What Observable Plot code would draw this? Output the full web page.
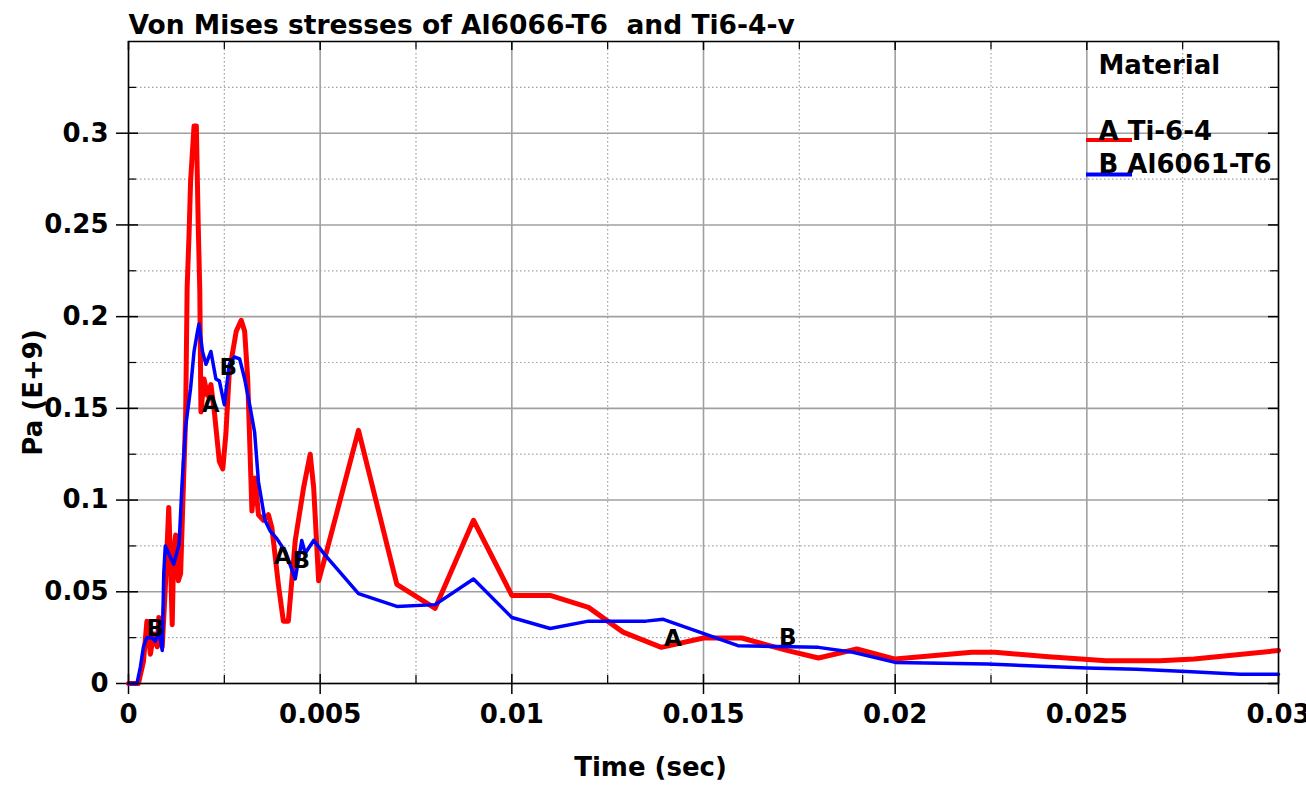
<!DOCTYPE html>
<html>
<head>
<meta charset="utf-8">
<script src="https://cdn.jsdelivr.net/npm/d3@7"></script>
<script src="https://cdn.jsdelivr.net/npm/@observablehq/plot@0.6"></script>
<style>
  html, body { margin: 0; padding: 0; background: white; }
</style>
</head>
<body>
<div id="chart"></div>
<script>
// ---- Data ----
const titleText = "Von Mises stresses of Al6066-T6  and Ti6-4-v";
const xLabelText = "Time (sec)";
const yLabelText = "Pa (E+9)";
const legendTitle = "Material";

// Series A: Ti-6-4 (red)
const tiTime = [0, 0.00026, 0.00039, 0.00048, 0.00057, 0.00066, 0.00075, 0.00079, 0.00088, 0.00096,
  0.00105, 0.0011, 0.00114, 0.00118, 0.00123, 0.0013, 0.00136, 0.00142, 0.00149, 0.00153,
  0.00158, 0.00162, 0.00171, 0.00177, 0.00182, 0.00186, 0.00189, 0.00197, 0.00206, 0.00215,
  0.00224, 0.00237, 0.00246, 0.00254, 0.00263, 0.00281, 0.00294, 0.00303, 0.00311, 0.00322,
  0.0033, 0.00339, 0.00352, 0.00365, 0.00374, 0.00391, 0.00404, 0.00417, 0.00435, 0.00457,
  0.00474, 0.00483, 0.00496, 0.00513, 0.006, 0.007, 0.008, 0.009, 0.01, 0.011,
  0.012, 0.0129, 0.0139, 0.015, 0.016, 0.0172, 0.018, 0.019, 0.02, 0.022,
  0.0226, 0.024, 0.0255, 0.0269, 0.0278, 0.03];
const tiStress = [0, 0, 0.012, 0.034, 0.016, 0.027, 0.02, 0.036, 0.02, 0.052,
  0.096, 0.063, 0.032, 0.072, 0.081, 0.056, 0.06, 0.1, 0.145, 0.216,
  0.245, 0.274, 0.304, 0.304, 0.249, 0.214, 0.148, 0.166, 0.157, 0.163,
  0.148, 0.121, 0.117, 0.136, 0.17, 0.192, 0.198, 0.192, 0.166, 0.094,
  0.112, 0.092, 0.089, 0.092, 0.085, 0.054, 0.034, 0.034, 0.078, 0.107,
  0.125, 0.107, 0.056, 0.069, 0.138, 0.054, 0.041, 0.089, 0.048, 0.048,
  0.0415, 0.028, 0.0197, 0.0248, 0.0248, 0.0179, 0.0139, 0.0188, 0.0133, 0.017,
  0.017, 0.0146, 0.0124, 0.0124, 0.0133, 0.018];

// Series B: Al6061-T6 (blue)
const alTime = [0, 0.00022, 0.00031, 0.00039, 0.00048, 0.00061, 0.0007, 0.00079, 0.00088, 0.00092,
  0.00096, 0.00118, 0.00132, 0.0014, 0.00149, 0.00162, 0.00171, 0.0018, 0.00184, 0.00193,
  0.00202, 0.00215, 0.00228, 0.00237, 0.0025, 0.00263, 0.00276, 0.0029, 0.00303, 0.00316,
  0.00329, 0.00339, 0.00356, 0.0037, 0.00387, 0.00409, 0.00435, 0.00452, 0.00461, 0.00483,
  0.00513, 0.006, 0.007, 0.008, 0.009, 0.01, 0.011, 0.012, 0.0135, 0.01395,
  0.0159, 0.018, 0.0189, 0.02, 0.0224, 0.025, 0.0263, 0.0276, 0.029, 0.03];
const alStress = [0, 0, 0.009, 0.02, 0.025, 0.025, 0.023, 0.029, 0.018, 0.06,
  0.075, 0.065, 0.076, 0.11, 0.14, 0.161, 0.181, 0.192, 0.196, 0.181,
  0.174, 0.181, 0.166, 0.165, 0.152, 0.174, 0.178, 0.177, 0.166, 0.152,
  0.137, 0.11, 0.089, 0.083, 0.079, 0.072, 0.057, 0.078, 0.071, 0.078,
  0.070, 0.049, 0.042, 0.043, 0.057, 0.036, 0.030, 0.034, 0.034, 0.035,
  0.0206, 0.0197, 0.017, 0.0115, 0.0106, 0.0084, 0.0078, 0.0066, 0.0051, 0.0051];

// On-curve point labels
const markText = ["B", "A", "B", "A", "B", "A", "B"];
const markTime = [0.0007, 0.00214, 0.0026, 0.00402, 0.00451, 0.0142, 0.0172];
const markStress = [0.030, 0.152, 0.172, 0.069, 0.067, 0.0245, 0.025];

// Legend
const legendKeys = ["A", "B"];
const legendNames = ["Ti-6-4", "Al6061-T6"];
const seriesColors = ["#ff0000", "#0000ff"];

// Ticks
const xMajor = [0, 0.005, 0.01, 0.015, 0.02, 0.025, 0.03];
const xTickLabels = ["0", "0.005", "0.01", "0.015", "0.02", "0.025", "0.03"];
const xMinor = [0.0025, 0.0075, 0.0125, 0.0175, 0.0225, 0.0275];
const yMajor = [0, 0.05, 0.1, 0.15, 0.2, 0.25, 0.3];
const yTickLabels = ["0", "0.05", "0.1", "0.15", "0.2", "0.25", "0.3"];
const yMinor = [0.025, 0.075, 0.125, 0.175, 0.225, 0.275, 0.325];

// ---- Build ----
const ti = tiTime.map((t, i) => ({t, v: tiStress[i]}));
const al = alTime.map((t, i) => ({t, v: alStress[i]}));
const marks = markText.map((s, i) => ({s, t: markTime[i], v: markStress[i]}));

const W = 1306, H = 786;
const mL = 128, mR = 28, mT = 41, mB = 103;
const fw = W - mL - mR, fh = H - mT - mB;
const FS = 26;

function swatch(color, yOff) {
  return (index, scales, values, dim) => {
    return d3.create("svg:line")
      .attr("x1", dim.marginLeft + 958).attr("x2", dim.marginLeft + 1004)
      .attr("y1", dim.marginTop + yOff).attr("y2", dim.marginTop + yOff)
      .attr("stroke", color).attr("stroke-width", 4).node();
  };
}

const txt = {textAnchor: "start", lineAnchor: "middle", fontSize: FS, fill: "black"};

const plot = Plot.plot({
  width: W, height: H,
  marginLeft: mL, marginRight: mR, marginTop: mT, marginBottom: mB,
  x: {domain: [0, 0.03]},
  y: {domain: [0, 0.35]},
  style: {fontFamily: "DejaVu Sans", fontWeight: "bold", fontSize: FS + "px", background: "white", color: "black", overflow: "visible"},
  marks: [
    Plot.ruleX(xMinor, {stroke: "#a0a0a0", strokeWidth: 1.2, strokeDasharray: "1.5,2.5"}),
    Plot.ruleY(yMinor, {stroke: "#a0a0a0", strokeWidth: 1.2, strokeDasharray: "1.5,2.5"}),
    Plot.ruleX(xMajor, {stroke: "#a0a0a0", strokeWidth: 1.6}),
    Plot.ruleY(yMajor, {stroke: "#a0a0a0", strokeWidth: 1.6}),
    // inner ticks on all four sides
    Plot.tickX(xMajor, {insetTop: fh - 9, stroke: "black", strokeWidth: 1.5}),
    Plot.tickX(xMinor, {insetTop: fh - 8, stroke: "black", strokeWidth: 1.2}),
    Plot.tickX(xMajor, {insetBottom: fh - 9, stroke: "black", strokeWidth: 1.5}),
    Plot.tickX(xMinor, {insetBottom: fh - 8, stroke: "black", strokeWidth: 1.2}),
    Plot.tickY(yMajor, {insetRight: fw - 10, stroke: "black", strokeWidth: 1.5}),
    Plot.tickY(yMinor, {insetRight: fw - 8, stroke: "black", strokeWidth: 1.2}),
    Plot.tickY(yMajor, {insetLeft: fw - 10, stroke: "black", strokeWidth: 1.5}),
    Plot.tickY(yMinor, {insetLeft: fw - 8, stroke: "black", strokeWidth: 1.2}),
    Plot.axisX(xMajor, {tickSize: 11, tickPadding: 10, strokeWidth: 1.5, label: null,
      tickFormat: d => xTickLabels[xMajor.indexOf(d)]}),
    Plot.axisY(yMajor, {tickSize: 12, tickPadding: 8, strokeWidth: 1.5, label: null,
      tickFormat: d => yTickLabels[yMajor.indexOf(d)]}),
    Plot.line(ti, {x: "t", y: "v", stroke: seriesColors[0], strokeWidth: 5}),
    Plot.line(al, {x: "t", y: "v", stroke: seriesColors[1], strokeWidth: 3.5}),
    Plot.text(marks, {x: "t", y: "v", text: "s", fontSize: 23, fill: "black"}),
    Plot.frame({stroke: "black", strokeWidth: 1.5}),
    Plot.text([titleText], {...txt, frameAnchor: "top-left", dy: -16, fontSize: 26.5}),
    Plot.text([xLabelText], {...txt, textAnchor: "middle", frameAnchor: "bottom", dx: -53, dy: 84}),
    Plot.text([yLabelText], {...txt, textAnchor: "middle", frameAnchor: "left", dx: -95, dy: 30, rotate: -90}),
    Plot.text([legendTitle], {...txt, frameAnchor: "top-left", dx: 970, dy: 24}),
    swatch(seriesColors[0], 99),
    swatch(seriesColors[1], 133.5),
    Plot.text([legendKeys[0] + " " + legendNames[0]], {...txt, frameAnchor: "top-left", dx: 970, dy: 90}),
    Plot.text([legendKeys[1] + " " + legendNames[1]], {...txt, frameAnchor: "top-left", dx: 970, dy: 123.5})
  ]
});

document.getElementById("chart").appendChild(plot);
</script>
</body>
</html>
